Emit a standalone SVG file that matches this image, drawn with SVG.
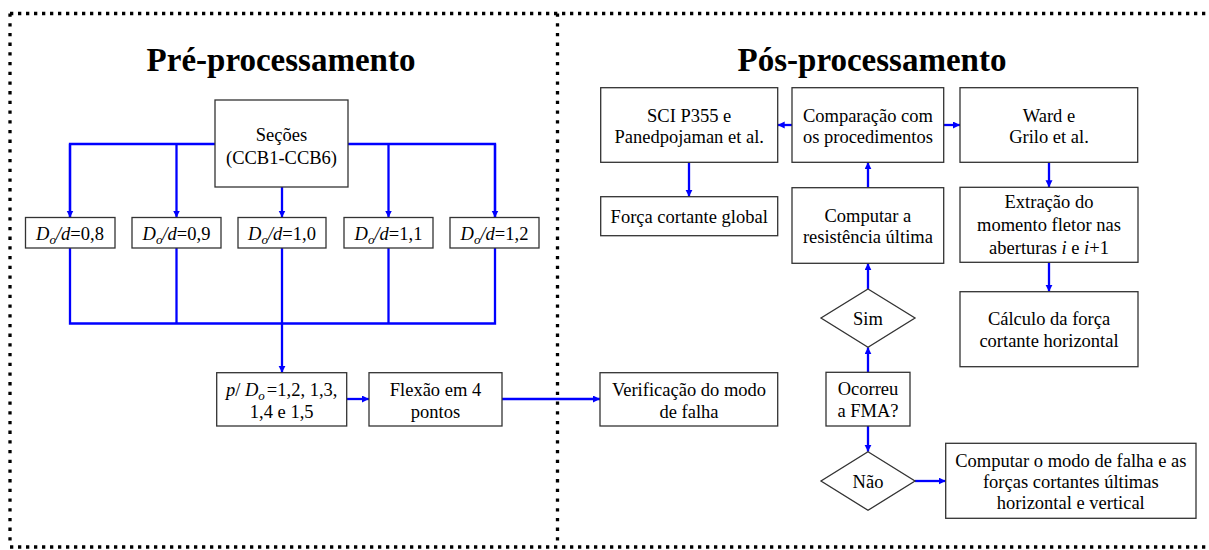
<svg xmlns="http://www.w3.org/2000/svg" width="1209" height="550" viewBox="0 0 1209 550">
<style>
.bx{fill:#fff;stroke:#333;stroke-width:1.3}
.t{font-family:"Liberation Serif","Times New Roman",serif;font-size:18.5px;fill:#000;text-anchor:middle}
.ti{font-family:"Liberation Serif","Times New Roman",serif;font-size:33px;font-weight:bold;fill:#000;text-anchor:middle}
.i{font-style:italic}
.c{fill:none;stroke:#0000ff;stroke-width:2.3}
.ca{fill:none;stroke:#0000ff;stroke-width:2.3;marker-end:url(#ah)}
.dh{fill:none;stroke:#000;stroke-width:3.3;stroke-dasharray:3.3 4.7}
.dv{fill:none;stroke:#000;stroke-width:3.3;stroke-dasharray:3.3 6.4}
</style>
<defs>
<marker id="ah" markerUnits="userSpaceOnUse" markerWidth="8" markerHeight="8" refX="7" refY="3.5" orient="auto">
<path d="M0,0 L7,3.5 L0,7 z" fill="#0000ff"/>
</marker>
</defs>
<rect width="1209" height="550" fill="#fff"/>
<g id="frame">
<line class="dh" x1="10" y1="13.5" x2="1209" y2="13.5"/>
<line class="dh" x1="10" y1="547" x2="1209" y2="547"/>
<line class="dv" x1="10" y1="13.5" x2="10" y2="547"/>
<line class="dv" x1="557.5" y1="13.5" x2="557.5" y2="547"/>
</g>
<g id="titles">
<text class="ti" x="281" y="71">Pré-processamento</text>
<text class="ti" x="872" y="71">Pós-processamento</text>
</g>
<g id="connectors">
<polyline class="c" points="70,217 70,144 495,144 495,217"/>
<line class="ca" x1="70" y1="144" x2="70" y2="217.5"/>
<line class="ca" x1="176.5" y1="144" x2="176.5" y2="217.5"/>
<line class="ca" x1="282" y1="187" x2="282" y2="217.5"/>
<line class="ca" x1="388.5" y1="144" x2="388.5" y2="217.5"/>
<line class="ca" x1="495" y1="144" x2="495" y2="217.5"/>
<polyline class="c" points="70,248 70,323.5 495,323.5 495,248"/>
<line class="c" x1="176.5" y1="248" x2="176.5" y2="323.5"/>
<line class="c" x1="388.5" y1="248" x2="388.5" y2="323.5"/>
<line class="c" x1="282" y1="248" x2="282" y2="323.5"/>
<line class="ca" x1="282" y1="323.5" x2="282" y2="372.7"/>
<line class="ca" x1="346.7" y1="399" x2="369" y2="399"/>
<line class="ca" x1="502" y1="399" x2="600" y2="399"/>
<line class="ca" x1="792" y1="125" x2="777.7" y2="125"/>
<line class="ca" x1="943.7" y1="125" x2="960" y2="125"/>
<line class="ca" x1="689" y1="162.3" x2="689" y2="196.7"/>
<line class="ca" x1="868" y1="187.7" x2="868" y2="162.3"/>
<line class="ca" x1="868" y1="289" x2="868" y2="263.3"/>
<line class="ca" x1="868" y1="372.3" x2="868" y2="347.3"/>
<line class="ca" x1="868" y1="426" x2="868" y2="451.7"/>
<line class="ca" x1="915" y1="481" x2="945.7" y2="481"/>
<line class="ca" x1="1049" y1="162.3" x2="1049" y2="187.3"/>
<line class="ca" x1="1049" y1="262.3" x2="1049" y2="291.7"/>
</g>
<g id="secoes">
<rect class="bx" x="215" y="100" width="133" height="87"/>
<text class="t" x="281.5" y="141">Seções</text>
<text class="t" x="281.5" y="164">(CCB1-CCB6)</text>
</g>
<g id="d08">
<rect class="bx" x="25.5" y="217.5" width="89.5" height="30.5"/>
<text class="t" x="70" y="240"><tspan class="i">D</tspan><tspan class="i" font-size="13" dy="4">o</tspan><tspan class="i" dy="-4">/d</tspan>=0,8</text>
</g>
<g id="d09">
<rect class="bx" x="132" y="217.5" width="89" height="30.5"/>
<text class="t" x="176.5" y="240"><tspan class="i">D</tspan><tspan class="i" font-size="13" dy="4">o</tspan><tspan class="i" dy="-4">/d</tspan>=0,9</text>
</g>
<g id="d10">
<rect class="bx" x="238" y="217.5" width="88" height="30.5"/>
<text class="t" x="282" y="240"><tspan class="i">D</tspan><tspan class="i" font-size="13" dy="4">o</tspan><tspan class="i" dy="-4">/d</tspan>=1,0</text>
</g>
<g id="d11">
<rect class="bx" x="344" y="217.5" width="89" height="30.5"/>
<text class="t" x="388.5" y="240"><tspan class="i">D</tspan><tspan class="i" font-size="13" dy="4">o</tspan><tspan class="i" dy="-4">/d</tspan>=1,1</text>
</g>
<g id="d12">
<rect class="bx" x="450" y="217.5" width="89" height="30.5"/>
<text class="t" x="494.5" y="240"><tspan class="i">D</tspan><tspan class="i" font-size="13" dy="4">o</tspan><tspan class="i" dy="-4">/d</tspan>=1,2</text>
</g>
<g id="pdo">
<rect class="bx" x="216.7" y="372.7" width="130" height="53.3"/>
<text class="t" x="281.7" y="396"><tspan class="i">p</tspan>/ <tspan class="i">D</tspan><tspan class="i" font-size="13" dy="4">o</tspan><tspan dy="-4" dx="2">=1,2, 1,3,</tspan></text>
<text class="t" x="281.7" y="417.5">1,4 e 1,5</text>
</g>
<g id="flexao">
<rect class="bx" x="369" y="372.7" width="133" height="53.3"/>
<text class="t" x="435.5" y="396">Flexão em 4</text>
<text class="t" x="435.5" y="417.5">pontos</text>
</g>
<g id="verificacao">
<rect class="bx" x="600" y="372.7" width="177.7" height="53.3"/>
<text class="t" x="689" y="396">Verificação do modo</text>
<text class="t" x="689" y="417.5">de falha</text>
</g>
<g id="sci">
<rect class="bx" x="600.7" y="87.7" width="177" height="74.6"/>
<text class="t" x="689.2" y="121.7">SCI P355 e</text>
<text class="t" x="689.2" y="142.7">Panedpojaman et al.</text>
</g>
<g id="comparacao">
<rect class="bx" x="792" y="87.7" width="151.7" height="74.6"/>
<text class="t" x="867.9" y="121.7">Comparação com</text>
<text class="t" x="867.9" y="142.7">os procedimentos</text>
</g>
<g id="ward">
<rect class="bx" x="960" y="87.7" width="177.7" height="74.6"/>
<text class="t" x="1049" y="121.7">Ward e</text>
<text class="t" x="1049" y="142.7">Grilo et al.</text>
</g>
<g id="forca">
<rect class="bx" x="600.7" y="196.7" width="177" height="39"/>
<text class="t" x="689.2" y="222.5">Força cortante global</text>
</g>
<g id="computar">
<rect class="bx" x="792" y="187.7" width="151.7" height="75.6"/>
<text class="t" x="867.9" y="221.7">Computar a</text>
<text class="t" x="867.9" y="243.3">resistência última</text>
</g>
<g id="extracao">
<rect class="bx" x="960" y="187.3" width="178" height="75"/>
<text class="t" x="1049" y="208.3">Extração do</text>
<text class="t" x="1049" y="231.3">momento fletor nas</text>
<text class="t" x="1049" y="254">aberturas <tspan class="i">i</tspan> e <tspan class="i">i</tspan>+1</text>
</g>
<g id="calculo">
<rect class="bx" x="960" y="291.7" width="178" height="75"/>
<text class="t" x="1049" y="325">Cálculo da força</text>
<text class="t" x="1049" y="346.7">cortante horizontal</text>
</g>
<g id="sim">
<polygon class="bx" points="868,289 915,318 868,347.3 821,318"/>
<text class="t" x="868" y="324.5">Sim</text>
</g>
<g id="ocorreu">
<rect class="bx" x="826" y="372.3" width="84" height="53.7"/>
<text class="t" x="868" y="395">Ocorreu</text>
<text class="t" x="868" y="416.7">a FMA?</text>
</g>
<g id="nao">
<polygon class="bx" points="868,451.7 915,481 868,510.3 821,481"/>
<text class="t" x="868" y="487.5">Não</text>
</g>
<g id="computarmodo">
<rect class="bx" x="945.7" y="443.3" width="250.3" height="75"/>
<text class="t" x="1070.8" y="466.7">Computar o modo de falha e as</text>
<text class="t" x="1070.8" y="488">forças cortantes últimas</text>
<text class="t" x="1070.8" y="509.3">horizontal e vertical</text>
</g>
</svg>
